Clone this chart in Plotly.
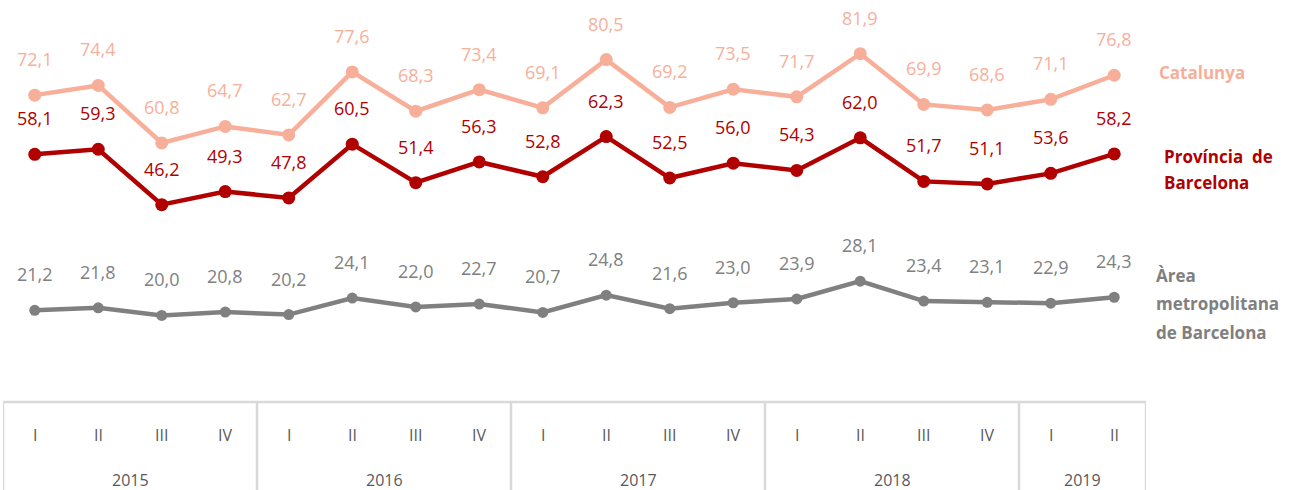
import plotly.graph_objects as go

quarters = ["I", "II", "III", "IV", "I", "II", "III", "IV", "I", "II", "III", "IV",
            "I", "II", "III", "IV", "I", "II"]
years = ["2015", "2016", "2017", "2018", "2019"]
year_counts = [4, 4, 4, 4, 2]

catalunya = [72.1, 74.4, 60.8, 64.7, 62.7, 77.6, 68.3, 73.4, 69.1, 80.5, 69.2, 73.5,
             71.7, 81.9, 69.9, 68.6, 71.1, 76.8]
provincia = [58.1, 59.3, 46.2, 49.3, 47.8, 60.5, 51.4, 56.3, 52.8, 62.3, 52.5, 56.0,
             54.3, 62.0, 51.7, 51.1, 53.6, 58.2]
area = [21.2, 21.8, 20.0, 20.8, 20.2, 24.1, 22.0, 22.7, 20.7, 24.8, 21.6, 23.0,
        23.9, 28.1, 23.4, 23.1, 22.9, 24.3]

legend_lines = {
    "Catalunya": ["Catalunya"],
    "Província de Barcelona": ["Província&nbsp; de", "Barcelona"],
    "Àrea metropolitana de Barcelona": ["Àrea", "metropolitana", "de Barcelona"],
}

series = [
    ("Catalunya", catalunya, "#F8AF9A", 13),
    ("Província de Barcelona", provincia, "#B00000", 13),
    ("Àrea metropolitana de Barcelona", area, "#808080", 11),
]

FONT = "Open Sans"
x = list(range(len(quarters)))
fig = go.Figure()
annotations = []
for name, vals, color, msize in series:
    fig.add_trace(go.Scatter(
        x=x, y=vals, mode="lines+markers", name=name,
        line=dict(color=color, width=4.5),
        marker=dict(color=color, size=msize),
        showlegend=False, hoverinfo="skip",
    ))
    for xi, v in zip(x, vals):
        annotations.append(dict(
            x=xi, y=v, xref="x", yref="y", text=f"{v:.1f}".replace(".", ","),
            showarrow=False, yshift=36,
            font=dict(family=FONT, size=18, color=color),
        ))

# legend-like labels on right: (x pixel, y shift of first line, line spacing)
legend_pos = [(1157, 3, 0), (1162, -3, 26), (1154, 22, 28.5)]
for (name, vals, color, msize), (px, ys0, dy) in zip(series, legend_pos):
    for k, line in enumerate(legend_lines[name]):
        annotations.append(dict(
            x=1.0, xref="paper", xanchor="left", xshift=px - 1146,
            y=vals[-1], yref="y", yshift=ys0 - k * dy,
            text=f"<b>{line}</b>", showarrow=False, align="left",
            font=dict(family=FONT, size=17, color=color),
        ))

# quarter labels
for xi, q in zip(x, quarters):
    annotations.append(dict(
        x=xi, xref="x", y=0, yref="paper", yshift=-35, text=q, showarrow=False,
        font=dict(family=FONT, size=16, color="#595959"), yanchor="middle",
    ))

shapes = []
line_col = "#D9D9D9"
start = -0.5
bounds = [start]
for yr, cnt in zip(years, year_counts):
    end = start + cnt
    annotations.append(dict(
        x=(start + end) / 2, xref="x", y=0, yref="paper", yshift=-80, text=yr,
        showarrow=False, font=dict(family=FONT, size=16, color="#595959"),
        yanchor="middle",
    ))
    bounds.append(end)
    start = end

for b in bounds:
    shapes.append(dict(type="line", xref="x", yref="paper", x0=b, x1=b,
                       y0=-0.005, y1=-0.3, line=dict(color=line_col, width=2.5)))
shapes.append(dict(type="line", xref="x", yref="paper", x0=bounds[0], x1=bounds[-1],
                   y0=-0.005, y1=-0.005, line=dict(color=line_col, width=2.5)))

fig.update_layout(
    width=1292, height=490,
    margin=dict(l=3, r=146, t=0, b=90, autoexpand=False),
    plot_bgcolor="white", paper_bgcolor="white",
    xaxis=dict(range=[-0.5, len(quarters) - 0.5], showticklabels=False, showgrid=False,
               zeroline=False, showline=False, fixedrange=True, automargin=False),
    yaxis=dict(range=[0, 94.6], showticklabels=False, showgrid=False, zeroline=False,
               showline=False, fixedrange=True, automargin=False),
    annotations=annotations,
    shapes=shapes,
)
fig.write_html("out.html", config={"displayModeBar": False},
               post_script="document.body.style.margin='0';document.body.style.overflow='hidden';")
